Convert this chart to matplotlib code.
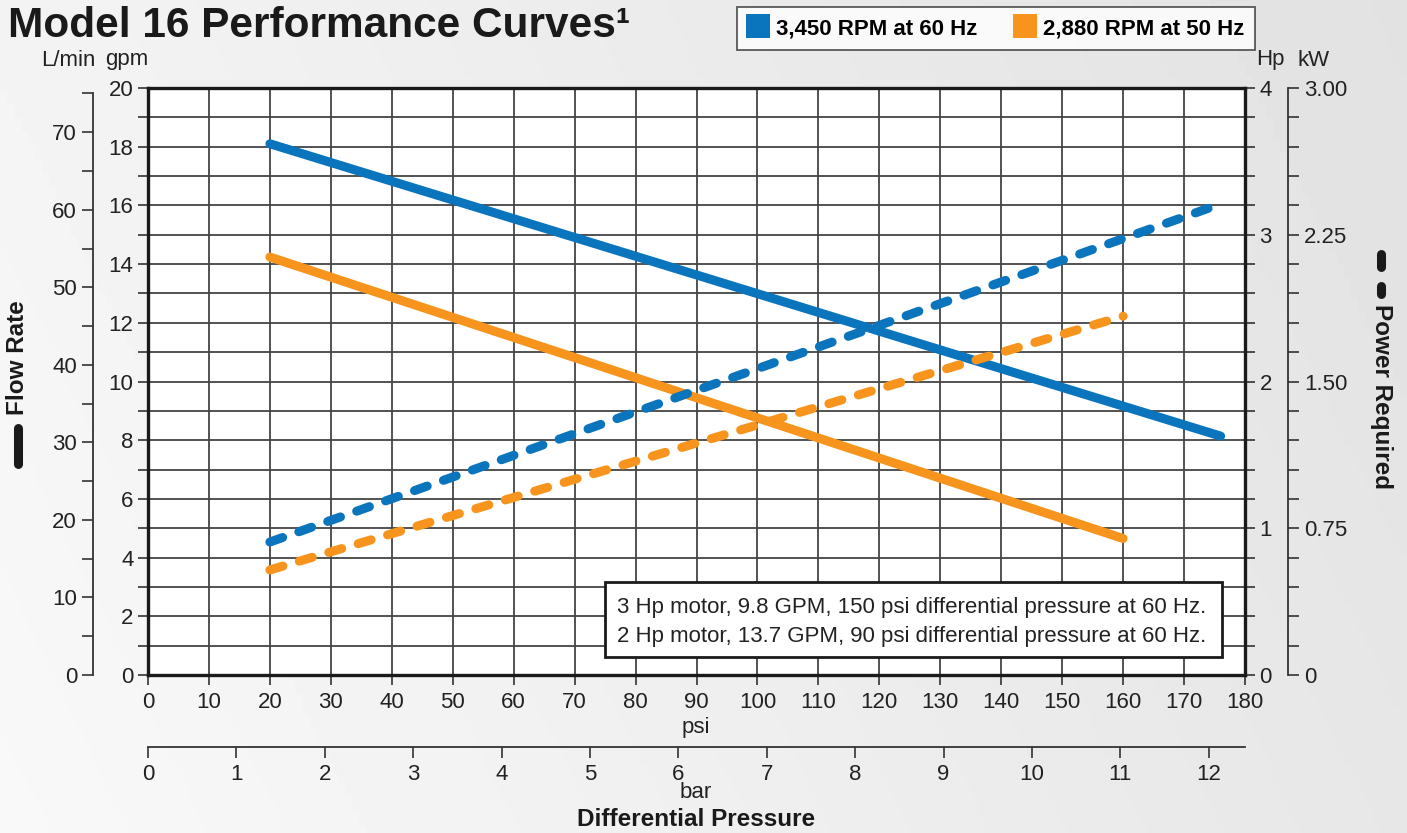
import numpy as np
import matplotlib
matplotlib.use("Agg")
import matplotlib.pyplot as plt
from matplotlib.lines import Line2D
from matplotlib.patches import Rectangle
from matplotlib.ticker import MultipleLocator, FixedLocator

plt.rcParams['font.family'] = ['Liberation Sans', 'DejaVu Sans']

# data (psi, gpm / Hp)
psi_60 = [20, 176]
flow_60 = [18.1, 8.14]
power_60 = [0.906, 3.21]

psi_50 = [20, 160]
flow_50 = [14.24, 4.65]
power_50 = [0.716, 2.445]

blue = '#0a74bd'
orange = '#f7941d'
grid_c = '#444444'
lbl_size = 16

fig = plt.figure(figsize=(14.07, 8.33), dpi=100)

# light grey gradient background
bg = fig.add_axes([0, 0, 1, 1], zorder=-10)
gx = np.linspace(0, 1, 200)
gy = np.linspace(0, 1, 120)
X, Y = np.meshgrid(gx, gy)
shade = 0.955 - 0.07 * X + 0.02 * Y
bg.imshow(shade, cmap='gray', vmin=0, vmax=1, aspect='auto', extent=[0, 1, 0, 1], origin='upper')
bg.axis('off')

L, B = 148 / 1407, (833 - 675) / 833
W, H = (1245 - 148) / 1407, (675 - 88) / 833
ax = fig.add_axes([L, B, W, H])
ax.set_facecolor('white')
ax.set_xlim(0, 180)
ax.set_ylim(0, 20)
ax.xaxis.set_major_locator(MultipleLocator(10))
ax.yaxis.set_major_locator(MultipleLocator(2))
ax.yaxis.set_minor_locator(MultipleLocator(1))
ax.grid(which='both', color=grid_c, lw=1.3)
ax.set_axisbelow(True)
for s in ax.spines.values():
    s.set_linewidth(2.4)
    s.set_color('#1a1a1a')
ax.spines['right'].set_visible(False)
ax.tick_params(which='both', length=7, width=1.2, color='#333333', labelsize=lbl_size,
               labelcolor='#222222')
ax.tick_params(axis='x', pad=5)

ax.plot(psi_60, flow_60, color=blue, lw=6.5, solid_capstyle='round', zorder=3)
ax.plot(psi_50, flow_50, color=orange, lw=6.5, solid_capstyle='round', zorder=3)

# note box
ax.add_patch(Rectangle((75.0, 0.61), 101.2, 2.56, facecolor='white', edgecolor='#1a1a1a',
                       lw=2.0, zorder=4))
ax.text(77, 2.3, '3 Hp motor, 9.8 GPM, 150 psi differential pressure at 60 Hz.',
        fontsize=lbl_size, va='center', color='#222222', zorder=5)
ax.text(77, 1.31, '2 Hp motor, 13.7 GPM, 90 psi differential pressure at 60 Hz.',
        fontsize=lbl_size, va='center', color='#222222', zorder=5)

# Hp axis on the right spine
ax_hp = ax.twinx()
ax_hp.set_ylim(0, 4)
ax_hp.yaxis.set_major_locator(MultipleLocator(1))
ax_hp.yaxis.set_minor_locator(MultipleLocator(0.2))
for s in ['left', 'top', 'bottom']:
    ax_hp.spines[s].set_visible(False)
ax_hp.spines['right'].set_linewidth(2.4)
ax_hp.spines['right'].set_color('#1a1a1a')
ax_hp.tick_params(which='both', length=7, width=1.2, color='#333333', labelsize=lbl_size,
                  labelcolor='#222222')
ax_hp.plot(psi_60, power_60, color=blue, lw=6.5, dashes=(1.5, 1.9), dash_capstyle='round')
ax_hp.plot(psi_50, power_50, color=orange, lw=6.5, dashes=(1.5, 1.9), dash_capstyle='round')

# L/min axis
ax_l = fig.add_axes([L, B, W, H], facecolor='none')
ax_l.set_ylim(0, 20 * 3.785)
ax_l.set_xticks([])
for s in ['right', 'top', 'bottom']:
    ax_l.spines[s].set_visible(False)
ax_l.spines['left'].set_position(('axes', -0.0501))
ax_l.spines['left'].set_bounds(0, 75)
ax_l.spines['left'].set_color('#333333')
ax_l.spines['left'].set_linewidth(1.3)
ax_l.yaxis.set_major_locator(FixedLocator([0, 10, 20, 30, 40, 50, 60, 70]))
ax_l.yaxis.set_minor_locator(FixedLocator([5, 15, 25, 35, 45, 55, 65, 75]))
ax_l.tick_params(which='both', length=8, width=1.2, color='#333333', labelsize=lbl_size,
                 labelcolor='#222222')

# kW axis
ax_kw = fig.add_axes([L, B, W, H], facecolor='none')
ax_kw.set_ylim(0, 3.0)
ax_kw.set_xticks([])
ax_kw.yaxis.tick_right()
for s in ['left', 'top', 'bottom']:
    ax_kw.spines[s].set_visible(False)
ax_kw.spines['right'].set_position(('axes', 1.0392))
ax_kw.spines['right'].set_color('#333333')
ax_kw.spines['right'].set_linewidth(1.3)
ax_kw.yaxis.set_major_locator(FixedLocator([0, 0.75, 1.5, 2.25, 3.0]))
ax_kw.yaxis.set_minor_locator(MultipleLocator(0.15))
ax_kw.set_yticklabels(['0', '0.75', '1.50', '2.25', '3.00'])
ax_kw.tick_params(which='both', length=8, width=1.2, color='#333333', labelsize=lbl_size,
                  labelcolor='#222222')

# bar axis below
ax_bar = ax.secondary_xaxis(-0.1227, functions=(lambda p: p / 14.5038, lambda b: b * 14.5038))
ax_bar.xaxis.set_major_locator(MultipleLocator(1))
ax_bar.spines['bottom'].set_linewidth(1.3)
ax_bar.spines['bottom'].set_color('#333333')
ax_bar.tick_params(length=8, width=1.2, color='#333333', labelsize=lbl_size,
                   labelcolor='#222222', pad=4)

# texts
fig.text(8 / 1407, 1 - 37 / 833, 'Model 16 Performance Curves\u00b9', fontsize=30.5,
         fontweight='bold', color='#1a1a1a', va='baseline')
fig.text(68 / 1407, 1 - 60 / 833, 'L/min', fontsize=lbl_size, ha='center', va='center', color='#222222')
fig.text(127 / 1407, 1 - 60 / 833, 'gpm', fontsize=lbl_size, ha='center', va='center', color='#222222')
fig.text(1270 / 1407, 1 - 60 / 833, 'Hp', fontsize=lbl_size, ha='center', va='center', color='#222222')
fig.text(1314 / 1407, 1 - 60 / 833, 'kW', fontsize=lbl_size, ha='center', va='center', color='#222222')
fig.text(696 / 1407, 1 - 727 / 833, 'psi', fontsize=lbl_size, ha='center', va='center', color='#222222')
fig.text(696 / 1407, 1 - 792 / 833, 'bar', fontsize=lbl_size, ha='center', va='center', color='#222222')
fig.text(696 / 1407, 1 - 820 / 833, 'Differential Pressure', fontsize=17.5, fontweight='bold',
         ha='center', va='center', color='#1a1a1a')

fig.text(18 / 1407, 1 - 358 / 833, 'Flow Rate', fontsize=17.5, fontweight='bold', rotation=90,
         ha='center', va='center', color='#1a1a1a')
fig.add_artist(Line2D([18 / 1407, 18 / 1407], [1 - 428 / 833, 1 - 464 / 833],
                      transform=fig.transFigure, color='#1a1a1a', lw=6.5, solid_capstyle='round'))
fig.text(1381 / 1407, 1 - 397 / 833, 'Power Required', fontsize=17.5, fontweight='bold', rotation=-90,
         ha='center', va='center', color='#1a1a1a')
fig.add_artist(Line2D([1381 / 1407, 1381 / 1407], [1 - 254 / 833, 1 - 267 / 833],
                      transform=fig.transFigure, color='#1a1a1a', lw=6.5, solid_capstyle='round'))
fig.add_artist(Line2D([1381 / 1407, 1381 / 1407], [1 - 286 / 833, 1 - 294 / 833],
                      transform=fig.transFigure, color='#1a1a1a', lw=6.5, solid_capstyle='round'))

# legend
handles = [Line2D([], [], marker='s', ls='none', markersize=17, color=blue, markeredgewidth=0),
           Line2D([], [], marker='s', ls='none', markersize=17, color=orange, markeredgewidth=0)]
leg = fig.legend(handles, ['3,450 RPM at 60 Hz', '2,880 RPM at 50 Hz'], ncol=2,
                 loc='upper right', bbox_to_anchor=(1255 / 1407, 1 - 7 / 833),
                 prop={'weight': 'bold', 'size': 16}, fancybox=False, frameon=True,
                 handlelength=0.9, handletextpad=0.35, columnspacing=1.7,
                 borderpad=0.5, borderaxespad=0)
leg.get_frame().set_edgecolor('#333333')
leg.get_frame().set_linewidth(1.3)

fig.savefig('out.png', dpi=100)
